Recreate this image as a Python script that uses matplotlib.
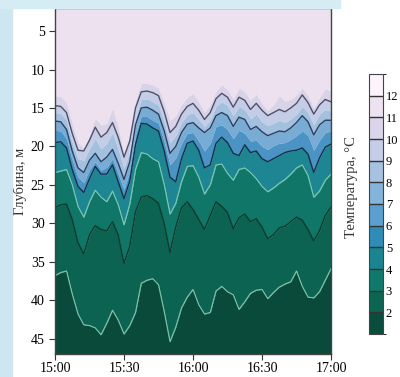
import matplotlib
matplotlib.use("Agg")
import matplotlib.pyplot as plt
import matplotlib.colors as mcolors
import matplotlib.cm as cm
import numpy as np

plt.rcParams['font.family'] = ['Liberation Serif', 'DejaVu Serif']

# minutes after 15:00
minutes = [0, 2.5, 5, 7.5, 10, 12.5, 15, 17.5, 20, 22.5, 25, 27.5, 30, 32.5, 35, 37.5,
           40, 42.5, 45, 47.5, 50, 52.5, 55, 57.5, 60, 62.5, 65, 67.5, 70, 72.5, 75, 77.5,
           80, 82.5, 85, 87.5, 90, 92.5, 95, 97.5, 100, 102.5, 105, 107.5, 110, 112.5, 115,
           117.5, 120]

# depth (m) of each isotherm
iso11 = [13.4, 13.5, 14.3, 17.0, 19.5, 20.2, 18.5, 16.3, 17.2, 17.0, 15.0, 17.5, 20.8, 18.5,
         14.0, 11.8, 11.8, 12.0, 12.4, 14.3, 16.6, 16.0, 14.6, 13.6, 13.1, 14.2, 15.5, 14.6,
         12.8, 12.0, 12.6, 13.8, 12.4, 12.9, 14.0, 13.2, 14.4, 15.3, 14.6, 13.4, 14.1, 13.9,
         13.3, 12.4, 13.4, 15.0, 13.6, 12.5, 12.8]
iso10 = [14.7, 14.8, 15.6, 18.3, 20.5, 20.6, 19.2, 17.5, 18.8, 18.2, 16.9, 18.8, 21.4, 19.3,
         15.0, 12.9, 12.8, 13.0, 13.4, 15.5, 18.2, 17.4, 15.8, 14.8, 14.4, 15.3, 16.5, 15.6,
         13.8, 13.1, 13.6, 14.9, 13.6, 14.0, 15.2, 14.4, 15.3, 16.0, 15.6, 15.2, 15.5, 15.0,
         14.4, 13.3, 14.3, 15.8, 14.6, 13.9, 14.2]
iso9 = [15.6, 15.7, 16.6, 19.5, 21.6, 21.8, 20.3, 19.0, 20.3, 19.6, 18.2, 20.4, 22.8, 20.6,
        16.2, 13.9, 13.8, 14.2, 14.6, 16.8, 19.5, 18.6, 16.9, 15.9, 15.6, 16.5, 17.4, 16.6,
        14.8, 14.2, 14.7, 16.0, 14.8, 15.2, 16.4, 15.8, 16.8, 17.3, 17.0, 16.6, 16.9, 16.4,
        15.8, 14.8, 15.6, 17.2, 15.8, 15.2, 15.4]
iso8 = [16.7, 16.8, 17.8, 20.6, 22.8, 23.4, 21.8, 20.9, 22.0, 21.4, 20.4, 22.2, 24.3, 22.0,
        17.2, 15.0, 14.9, 15.3, 15.8, 18.0, 20.9, 20.0, 18.2, 17.1, 16.9, 17.6, 18.2, 17.6,
        16.0, 15.6, 16.0, 17.4, 16.2, 16.5, 17.8, 17.4, 18.1, 18.6, 18.3, 18.0, 18.1, 17.6,
        16.9, 16.0, 16.8, 18.5, 17.2, 16.6, 16.6]
iso7 = [17.9, 18.0, 19.0, 21.8, 24.0, 24.7, 23.0, 22.0, 23.1, 22.7, 21.6, 23.6, 25.6, 23.2,
        18.5, 16.1, 16.1, 16.6, 17.0, 19.4, 22.4, 21.5, 19.6, 18.3, 18.2, 19.3, 20.6, 19.6,
        17.4, 17.2, 17.8, 19.0, 17.9, 18.3, 19.3, 19.2, 20.0, 20.4, 19.9, 19.6, 19.5, 19.1,
        18.6, 18.0, 18.6, 20.5, 19.2, 18.2, 18.0]
iso6 = [19.5, 19.4, 20.2, 23.0, 25.2, 26.0, 24.2, 22.6, 23.6, 23.6, 22.4, 24.6, 26.8, 24.5,
        19.8, 17.0, 17.1, 17.6, 18.0, 20.6, 24.0, 24.6, 21.6, 19.6, 19.3, 20.5, 22.8, 22.4,
        19.6, 18.8, 19.5, 20.9, 21.2, 19.8, 20.8, 20.6, 21.6, 22.0, 21.6, 21.2, 20.8, 20.6,
        20.5, 20.2, 21.0, 23.4, 21.5, 20.1, 19.7]
iso5 = [23.4, 23.2, 23.0, 25.0, 27.8, 29.2, 27.2, 25.7, 26.6, 27.2, 25.8, 27.6, 30.2, 27.5,
        23.0, 20.8, 21.0, 21.6, 22.0, 25.0, 28.8, 27.4, 24.6, 22.6, 22.5, 24.0, 26.2, 25.0,
        22.4, 22.3, 23.5, 24.4, 23.0, 22.8, 23.4, 24.2, 25.2, 25.9, 25.4, 24.8, 24.3, 23.6,
        22.8, 22.4, 23.8, 26.6, 25.8, 24.4, 23.6]
iso4 = [28.0, 27.6, 27.5, 29.5, 32.5, 34.0, 31.5, 30.3, 30.8, 31.0, 29.8, 31.5, 35.2, 33.0,
        28.5, 26.6, 26.4, 26.8, 27.4, 30.0, 33.8, 30.5, 28.0, 27.2, 28.2, 29.5, 30.8, 29.0,
        27.2, 27.8, 28.6, 30.7, 29.3, 28.8, 29.8, 29.4, 30.5, 32.0, 31.5, 30.6, 30.4, 29.8,
        29.2, 29.6, 30.8, 32.3, 31.0, 29.0, 27.9]
iso3 = [36.8, 36.4, 36.2, 39.2, 41.8, 43.2, 43.3, 43.6, 44.5, 43.0, 41.3, 42.6, 44.4, 43.3,
        41.6, 37.8, 37.4, 37.2, 38.0, 41.5, 45.4, 43.5, 41.0, 39.6, 38.6, 40.6, 41.8, 41.6,
        38.8, 38.2, 38.9, 39.3, 41.2, 40.2, 39.1, 38.7, 38.6, 39.8, 39.0, 38.3, 37.9, 37.6,
        36.2, 38.2, 39.6, 39.7, 38.9, 37.4, 35.9]

tick_minutes = [0, 30, 60, 90, 120]
tick_labels = ['15:00', '15:30', '16:00', '16:30', '17:00']
depth_ticks = [5, 10, 15, 20, 25, 30, 35, 40, 45]
cbar_levels = [1, 2, 3, 4, 5, 6, 7, 8, 9, 10, 11, 12, 13]
cbar_ticks = [2, 3, 4, 5, 6, 7, 8, 9, 10, 11, 12]

top, bottom = 2, 47
curves = [iso11, iso10, iso9, iso8, iso7, iso6, iso5, iso4, iso3]
band_colors = ['#ede1f0', '#d9d3e8', '#c4cde5', '#a3c1df', '#79acd5', '#4a93c4',
               '#1e8593', '#107768', '#0c6351', '#0a4a3b']
line_styles = {1: '#4c4f6c', 3: '#2c3f5e', 5: '#143048', 6: '#7ccab2', 7: '#0b3a2e', 8: '#7cc6ab'}
cbar_colors = ['#0a4d3d', '#0c6551', '#0f7a6c', '#1a8590', '#2e8cb6', '#5aa0cf',
               '#85b4da', '#a5c2e0', '#c5cee6', '#dad5ea', '#ede2f0', '#fcf4fa']

fig = plt.figure(figsize=(4.0, 3.77), dpi=100, facecolor='white')
fig.patches.append(plt.Rectangle((0, 0), 12 / 400, 1, transform=fig.transFigure,
                                 color='#cde6f1', zorder=0))
fig.patches.append(plt.Rectangle((0, 1 - 8 / 377), 0.85, 8 / 377, transform=fig.transFigure,
                                 color='#d6ecf5', zorder=0))

ax = fig.add_axes([55 / 400, 1 - 354 / 377, 276 / 400, 346 / 377])
t = np.array(minutes)
bounds = [np.full(len(t), top)] + [np.array(c) for c in curves] + [np.full(len(t), bottom)]
for i in range(len(bounds) - 1):
    ax.fill_between(t, bounds[i], bounds[i + 1], color=band_colors[i], lw=0)
for i, c in enumerate(curves):
    if i in line_styles:
        lw = 0.8 if i in (6, 8) else 1.0
        ax.plot(t, c, color=line_styles[i], lw=lw)

ax.set_xlim(0, 120)
ax.set_ylim(bottom, top)
ax.set_xticks(tick_minutes)
ax.set_xticklabels(tick_labels)
ax.set_yticks(depth_ticks)
ax.tick_params(direction='out', length=4, width=0.8, labelsize=10, color='#333333')
ax.tick_params(axis='x', pad=2)
ax.set_ylabel('Глубина, м', fontsize=10.5, color='#333333', labelpad=3)
for s in ax.spines.values():
    s.set_color('#444444')
    s.set_linewidth(1.0)

cax = fig.add_axes([369 / 400, 1 - 334 / 377, 14 / 400, 260 / 377])
cmap = mcolors.ListedColormap(cbar_colors)
norm = mcolors.BoundaryNorm(cbar_levels, cmap.N)
cb = fig.colorbar(cm.ScalarMappable(norm=norm, cmap=cmap), cax=cax, drawedges=True,
                  ticks=cbar_ticks)
cb.outline.set_edgecolor('#444444')
cb.dividers.set_color('#333333')
cb.dividers.set_linewidth(1.0)
cax.tick_params(length=0, labelsize=9, pad=2)
fig.text(351 / 400, 1 - 187 / 377, 'Температура, °C', rotation=90, ha='center',
         va='center', fontsize=10.5, color='#333333')

fig.savefig('out.png', dpi=100, facecolor=fig.get_facecolor())
